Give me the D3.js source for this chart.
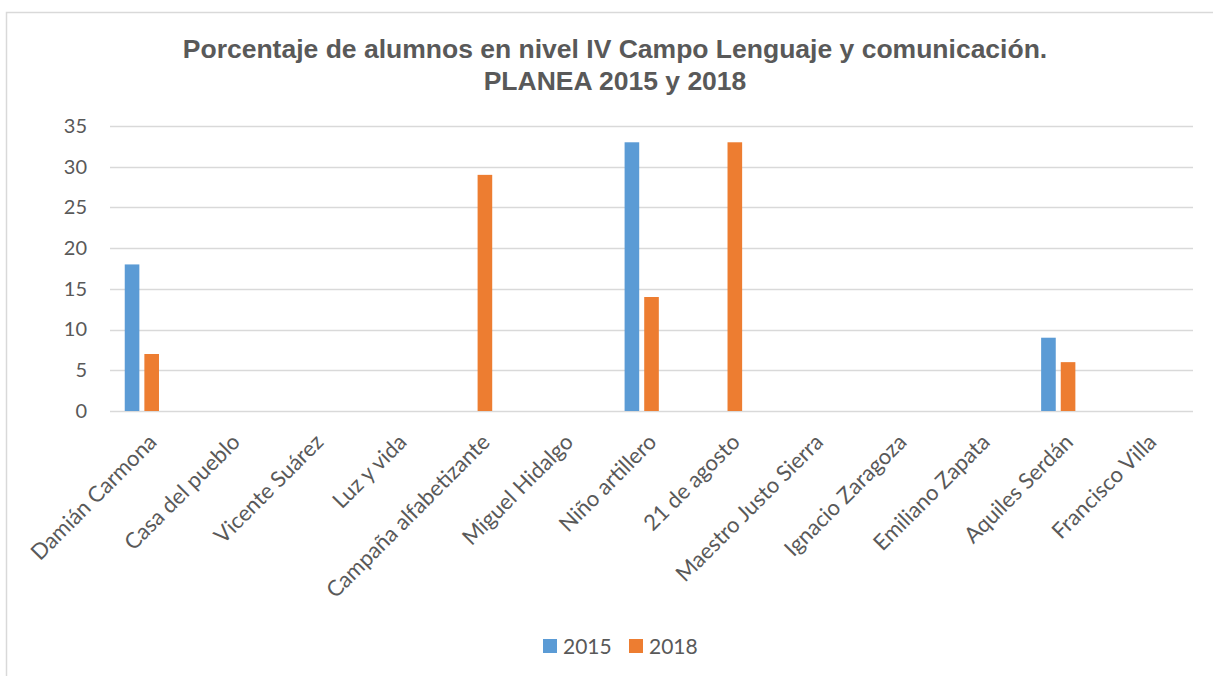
<!DOCTYPE html>
<html>
<head>
<meta charset="utf-8">
<script src="https://cdn.jsdelivr.net/npm/d3@7"></script>
<style>
  body { margin: 0; background: #fff; }
  svg { display: block; }
</style>
</head>
<body>
<script>
const escuelas = ["Damián Carmona", "Casa del pueblo", "Vicente Suárez", "Luz y vida",
  "Campaña alfabetizante", "Miguel Hidalgo", "Niño artillero", "21 de agosto",
  "Maestro Justo Sierra", "Ignacio Zaragoza", "Emiliano Zapata", "Aquiles Serdán", "Francisco Villa"]
const series = ["2015", "2018"]
const valores2015 = [18, 0, 0, 0, 0, 0, 33, 0, 0, 0, 0, 9, 0]
const valores2018 = [7, 0, 0, 0, 29, 0, 14, 33, 0, 0, 0, 6, 0]
const yTicks = [0, 5, 10, 15, 20, 25, 30, 35]
const tituloLineas = ["Porcentaje de alumnos en nivel IV Campo Lenguaje y comunicación.", "PLANEA 2015 y 2018"]

const colores = { "2015": "#5b9bd5", "2018": "#ed7d31" }
const gris = "#595959"

const width = 1213, height = 676
const plot = { left: 110, right: 1193, top: 126, bottom: 411 }

const svg = d3.select("body").append("svg")
  .attr("width", width)
  .attr("height", height)

// borde del grafico
svg.append("rect")
  .attr("x", 6.5).attr("y", 12.5)
  .attr("width", width + 10).attr("height", height + 10)
  .attr("fill", "none")
  .attr("stroke", "#d9d9d9")
  .attr("stroke-width", 1.5)

const x0 = d3.scaleBand()
  .domain(escuelas)
  .range([plot.left, plot.right])

const bw = x0.bandwidth()
const x1 = d3.scaleBand()
  .domain(series)
  .range([bw * 0.147, bw * 0.618])
  .paddingInner(0.255)
  .paddingOuter(0.1275)

const y = d3.scaleLinear()
  .domain([0, 35])
  .range([plot.bottom, plot.top])

// lineas de cuadricula
svg.append("g")
  .selectAll("line")
  .data(yTicks)
  .enter().append("line")
  .attr("x1", plot.left)
  .attr("x2", plot.right)
  .attr("y1", d => Math.round(y(d)) + 0.5)
  .attr("y2", d => Math.round(y(d)) + 0.5)
  .attr("stroke", "#d9d9d9")
  .attr("stroke-width", 1.5)

// eje y
const yAxis = d3.axisLeft(y).tickValues(yTicks).tickSize(0).tickPadding(0)
svg.append("g")
  .attr("class", "axis y")
  .attr("transform", `translate(87,0)`)
  .call(yAxis)
  .call(g => g.select(".domain").remove())
  .selectAll("text")
  .attr("fill", gris)
  .style("font-family", "Lato, 'Open Sans', sans-serif")
  .style("font-size", "20px")

// barras
const filas = escuelas.map((e, i) => ({ escuela: e, "2015": valores2015[i], "2018": valores2018[i] }))

const grupos = svg.append("g")
  .selectAll("g")
  .data(filas)
  .enter().append("g")
  .attr("transform", d => `translate(${x0(d.escuela)},0)`)

grupos.selectAll("rect")
  .data(d => series.map(s => ({ serie: s, valor: d[s] })))
  .enter().append("rect")
  .attr("x", d => x1(d.serie))
  .attr("width", x1.bandwidth())
  .attr("y", d => y(d.valor))
  .attr("height", d => y(0) - y(d.valor))
  .attr("fill", d => colores[d.serie])

// eje x
const xAxis = d3.axisBottom(x0).tickSize(0).tickPadding(0)
svg.append("g")
  .attr("class", "axis x")
  .attr("transform", `translate(0,${plot.bottom})`)
  .call(xAxis)
  .call(g => g.select(".domain").remove())
  .selectAll("text")
  .attr("fill", gris)
  .attr("text-anchor", "end")
  .attr("dy", "0.35em")
  .attr("transform", "translate(1,27) rotate(-45)")
  .style("font-family", "Lato, 'Open Sans', sans-serif")
  .style("font-size", "22px")

// titulo
svg.append("text")
  .attr("x", 615)
  .attr("y", 58)
  .attr("text-anchor", "middle")
  .attr("fill", gris)
  .style("font-family", "'Liberation Sans', Arial, sans-serif")
  .style("font-weight", "bold")
  .style("font-size", "26.5px")
  .selectAll("tspan")
  .data(tituloLineas)
  .enter().append("tspan")
  .attr("x", 615)
  .attr("dy", (d, i) => i === 0 ? 0 : 32)
  .text(d => d)

// leyenda
const leyenda = svg.append("g")
  .selectAll("g")
  .data(series)
  .enter().append("g")
  .attr("transform", (d, i) => `translate(${543 + i * 86},639)`)

leyenda.append("rect")
  .attr("width", 14)
  .attr("height", 14)
  .attr("fill", d => colores[d])

leyenda.append("text")
  .attr("x", 20)
  .attr("y", 14.5)
  .attr("fill", gris)
  .style("font-family", "Lato, 'Open Sans', sans-serif")
  .style("font-size", "21px")
  .text(d => d)
</script>
</body>
</html>
